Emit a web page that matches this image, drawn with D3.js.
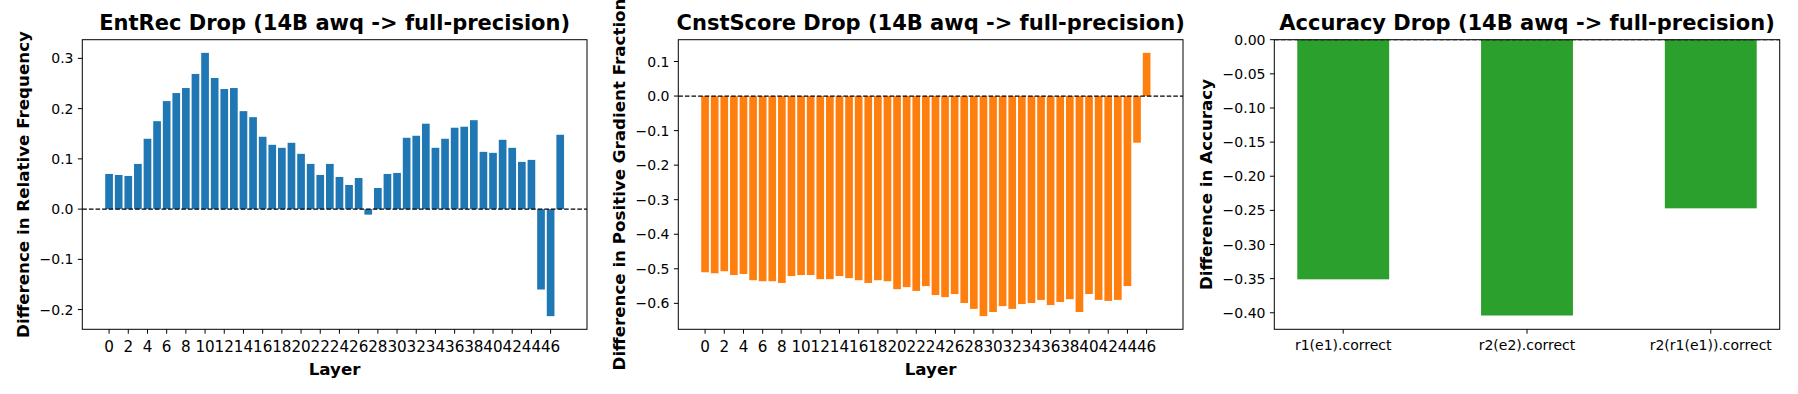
<!DOCTYPE html>
<html>
<head>
<meta charset="utf-8">
<script src="https://cdn.jsdelivr.net/npm/d3@7"></script>
<style>
  body { margin: 0; background: #fff; }
  text { font-family: "DejaVu Sans", sans-serif; fill: #000; }
</style>
</head>
<body>
<div id="chart"></div>
<script>
// values
let entrecDrop = [0.070, 0.068, 0.066, 0.090, 0.140, 0.175, 0.215, 0.231, 0.241, 0.269,
    0.311, 0.261, 0.239, 0.241, 0.195, 0.183, 0.144, 0.128, 0.122, 0.132,
    0.110, 0.090, 0.068, 0.090, 0.064, 0.048, 0.062, -0.011, 0.042, 0.070,
    0.072, 0.142, 0.146, 0.170, 0.122, 0.140, 0.162, 0.164, 0.177, 0.114,
    0.112, 0.138, 0.122, 0.094, 0.098, -0.160, -0.213, 0.148];

let cnstDrop = [-0.510, -0.513, -0.507, -0.518, -0.515, -0.533, -0.536, -0.536, -0.541, -0.521,
    -0.518, -0.518, -0.530, -0.530, -0.521, -0.527, -0.533, -0.541, -0.533, -0.536,
    -0.559, -0.553, -0.564, -0.550, -0.576, -0.582, -0.573, -0.599, -0.616, -0.637,
    -0.625, -0.608, -0.616, -0.602, -0.599, -0.590, -0.605, -0.596, -0.588, -0.625,
    -0.573, -0.590, -0.593, -0.590, -0.550, -0.135, 0.125, 0.0];

let accCategories = ["r1(e1).correct", "r2(e2).correct", "r2(r1(e1)).correct"];
let accDrop = [-0.351, -0.404, -0.247];

let layerTicks = d3.range(0, 47, 2);
let entrecTicks = [-0.2, -0.1, 0.0, 0.1, 0.2, 0.3];
let cnstTicks = [-0.6, -0.5, -0.4, -0.3, -0.2, -0.1, 0.0, 0.1];
let accTicks = [-0.40, -0.35, -0.30, -0.25, -0.20, -0.15, -0.10, -0.05, 0.00];

const W = 1798, H = 394;
const TOP = 39.7, BOTTOM = 329.3;
const TICK = 4.4, PAD = 4.4;

let svg = d3.select("#chart").append("svg")
    .attr("width", W)
    .attr("height", H);

svg.append("rect").attr("width", W).attr("height", H).attr("fill", "#fff");

// pad a domain by 5% like matplotlib does
function padded(lo, hi) {
    let m = (hi - lo) * 0.05;
    return [lo - m, hi + m];
}

function fmtTick(digits) {
    let f = d3.format("." + digits + "f");
    return v => Math.abs(v) < 1e-9 ? f(0) : f(v);
}

function drawPanel(p) {
    let g = svg.append("g");

    let x = d3.scaleLinear().domain(p.xDomain).range([p.left, p.right]);
    let y = d3.scaleLinear().domain(p.yDomain).range([BOTTOM, TOP]);

    // clip
    let clipId = "clip" + p.id;
    svg.append("clipPath").attr("id", clipId)
        .append("rect")
        .attr("x", p.left).attr("y", TOP)
        .attr("width", p.right - p.left).attr("height", BOTTOM - TOP);

    let plot = g.append("g").attr("clip-path", `url(#${clipId})`);

    plot.selectAll("rect.bar")
        .data(p.values)
        .join("rect")
        .attr("class", "bar")
        .attr("x", (d, i) => x(i - p.barWidth / 2))
        .attr("width", (d, i) => x(i + p.barWidth / 2) - x(i - p.barWidth / 2))
        .attr("y", d => y(Math.max(0, d)))
        .attr("height", d => Math.abs(y(d) - y(0)))
        .attr("fill", p.color);

    // dashed zero line
    plot.append("line")
        .attr("x1", p.left).attr("x2", p.right)
        .attr("y1", y(0)).attr("y2", y(0))
        .attr("stroke", "#000")
        .attr("stroke-width", 1.2)
        .attr("stroke-dasharray", "4.6,2");

    // y axis ticks
    let fy = fmtTick(p.yDigits);
    let yt = g.append("g");
    p.yTicks.forEach(t => {
        yt.append("line")
            .attr("x1", p.left - TICK).attr("x2", p.left)
            .attr("y1", y(t)).attr("y2", y(t))
            .attr("stroke", "#000").attr("stroke-width", 1);
        yt.append("text")
            .attr("x", p.left - TICK - PAD)
            .attr("y", y(t))
            .attr("dy", "0.36em")
            .attr("text-anchor", "end")
            .style("font-size", p.yTickSize + "px")
            .text(fy(t));
    });

    // x axis ticks
    let xt = g.append("g");
    p.xTicks.forEach((t, i) => {
        xt.append("line")
            .attr("x1", x(t)).attr("x2", x(t))
            .attr("y1", BOTTOM).attr("y2", BOTTOM + TICK)
            .attr("stroke", "#000").attr("stroke-width", 1);
        xt.append("text")
            .attr("x", x(t))
            .attr("y", p.xTickBase)
            .attr("text-anchor", "middle")
            .style("font-size", p.xTickSize + "px")
            .text(p.xLabels[i]);
    });

    // frame
    g.append("rect")
        .attr("x", p.left).attr("y", TOP)
        .attr("width", p.right - p.left).attr("height", BOTTOM - TOP)
        .attr("fill", "none").attr("stroke", "#000").attr("stroke-width", 1);

    // title
    g.append("text")
        .attr("x", (p.left + p.right) / 2)
        .attr("y", 30)
        .attr("text-anchor", "middle")
        .style("font-size", "21px")
        .style("font-weight", "bold")
        .text(p.title);

    // axis labels
    if (p.xTitle) {
        g.append("text")
            .attr("x", (p.left + p.right) / 2)
            .attr("y", 375)
            .attr("text-anchor", "middle")
            .style("font-size", "16.7px")
            .style("font-weight", "bold")
            .text(p.xTitle);
    }
    g.append("text")
        .attr("transform", `translate(${p.yTitleX},${(TOP + BOTTOM) / 2}) rotate(-90)`)
        .attr("text-anchor", "middle")
        .style("font-size", "16.7px")
        .style("font-weight", "bold")
        .text(p.yTitle);
}

// panel 1
drawPanel({
    id: 1, left: 82.3, right: 587,
    values: entrecDrop, barWidth: 0.8, color: "#1f77b4",
    xDomain: padded(-0.4, entrecDrop.length - 1 + 0.4),
    yDomain: padded(d3.min(entrecDrop), d3.max(entrecDrop)),
    yTicks: entrecTicks, yDigits: 1, yTickSize: 14,
    xTicks: layerTicks, xLabels: layerTicks.map(String), xTickSize: 15.2, xTickBase: 352,
    title: "EntRec Drop (14B awq -> full-precision)",
    xTitle: "Layer",
    yTitle: "Difference in Relative Frequency", yTitleX: 29
});

// panel 2
drawPanel({
    id: 2, left: 678.3, right: 1183,
    values: cnstDrop, barWidth: 0.8, color: "#ff7f0e",
    xDomain: padded(-0.4, cnstDrop.length - 1 + 0.4),
    yDomain: padded(d3.min(cnstDrop), d3.max(cnstDrop)),
    yTicks: cnstTicks, yDigits: 1, yTickSize: 14,
    xTicks: layerTicks, xLabels: layerTicks.map(String), xTickSize: 15.2, xTickBase: 352,
    title: "CnstScore Drop (14B awq -> full-precision)",
    xTitle: "Layer",
    yTitle: "Difference in Positive Gradient Fraction", yTitleX: 625
});

// panel 3 (bars stick to zero at the top)
let accLo = d3.min(accDrop);
drawPanel({
    id: 3, left: 1274.3, right: 1779.7,
    values: accDrop, barWidth: 0.5, color: "#2ca02c",
    xDomain: padded(-0.25, accDrop.length - 1 + 0.25),
    yDomain: [accLo + accLo * 0.05, 0],
    yTicks: accTicks, yDigits: 2, yTickSize: 14,
    xTicks: d3.range(accCategories.length), xLabels: accCategories, xTickSize: 14, xTickBase: 350,
    title: "Accuracy Drop (14B awq -> full-precision)",
    xTitle: null,
    yTitle: "Difference in Accuracy", yTitleX: 1212
});
</script>
</body>
</html>
